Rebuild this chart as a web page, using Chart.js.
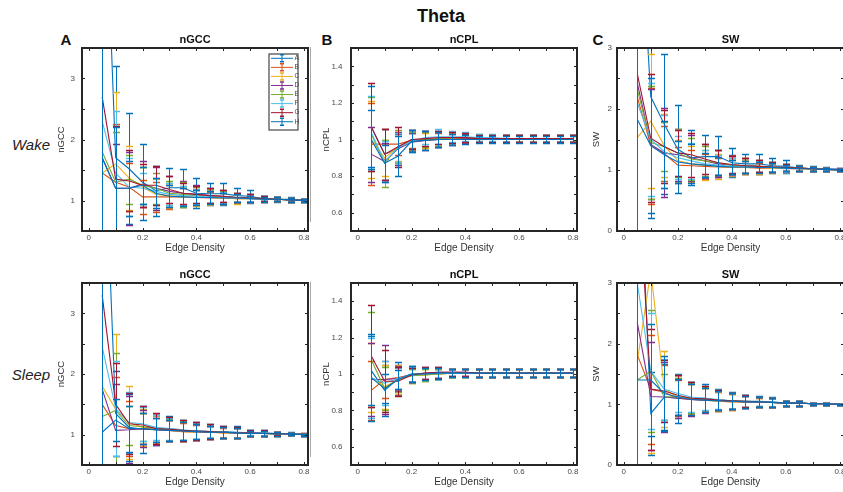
<!DOCTYPE html>
<html>
<head>
<meta charset="utf-8">
<title>Theta</title>
<script src="https://cdn.jsdelivr.net/npm/chart.js@4.4.1/dist/chart.umd.min.js"></script>
<style>
  html, body { margin: 0; padding: 0; background: #fff; }
  body { width: 843px; height: 492px; position: relative; overflow: hidden; font-family: "Liberation Sans", Arial, sans-serif; color: #111; }
  canvas { position: absolute; }
  .txt { position: absolute; transform: translate(-50%, -50%); white-space: nowrap; line-height: 1; }
  .big { font-weight: bold; font-size: 18px; }
  .letter { font-weight: bold; font-size: 15px; }
  .row { font-style: italic; font-size: 15px; color: #222; }
  .rule { position: absolute; left: 310px; width: 1px; background: #a8a8a8; }
</style>
</head>
<body>
<div class="txt big" style="left:441px;top:16px">Theta</div>
<div class="txt letter" style="left:66px;top:39px">A</div>
<div class="txt letter" style="left:327px;top:39px">B</div>
<div class="txt letter" style="left:598px;top:39px">C</div>
<div class="txt row" style="left:31px;top:144px">Wake</div>
<div class="txt row" style="left:31px;top:374px">Sleep</div>
<div class="rule" style="top:47px;height:175px"></div>
<div class="rule" style="top:282px;height:175px"></div>

<canvas id="wakeGcc"></canvas>
<canvas id="wakeCpl"></canvas>
<canvas id="wakeSw"></canvas>
<canvas id="sleepGcc"></canvas>
<canvas id="sleepCpl"></canvas>
<canvas id="sleepSw"></canvas>

<script>
// edge densities (x) and the 8 subjects
const edgeDensity = [0.05, 0.10, 0.15, 0.20, 0.25, 0.30, 0.35, 0.40, 0.45, 0.50, 0.55, 0.60, 0.65, 0.70, 0.75, 0.80];
const seriesNames = ['A', 'B', 'C', 'D', 'E', 'F', 'G', 'H'];
const seriesColors = ['#0072BD', '#D95319', '#EDB120', '#7E2F8E', '#77AC30', '#4DBEEE', '#A2142F', '#0072BD'];

// tick values / labels
const xTickValues = [0, 0.1, 0.2, 0.3, 0.4, 0.5, 0.6, 0.7, 0.8];
const xTickLabels = ['0', '', '0.2', '', '0.4', '', '0.6', '', '0.8'];
const gccTickValues = [0.5, 1, 1.5, 2, 2.5, 3, 3.5];
const gccTickLabels = ['', '1', '', '2', '', '3', ''];
const cplTickValues = [0.5, 0.6, 0.7, 0.8, 0.9, 1, 1.1, 1.2, 1.3, 1.4, 1.5];
const cplTickLabels = ['', '0.6', '', '0.8', '', '1', '', '1.2', '', '1.4', ''];
const swTickValues = [0, 0.5, 1, 1.5, 2, 2.5, 3];
const swTickLabels = ['0', '', '1', '', '2', '', '3'];

// Wake - nGCC (rows A..H)
const wakeGccMean = [
  [7.5, 1.7, 1.52, 1.3, 1.16, 1.21, 1.21, 1.12, 1.11, 1.11, 1.08, 1.07, 1.03, 1.02, 1.02, 1.01],
  [1.45, 1.3, 1.22, 1.06, 1.06, 1.06, 1.06, 1.05, 1.04, 1.04, 1.03, 1.03, 1.02, 1.02, 1.01, 1.01],
  [1.45, 1.6, 1.37, 1.22, 1.1, 1.08, 1.06, 1.05, 1.05, 1.04, 1.03, 1.03, 1.02, 1.02, 1.01, 1.0],
  [1.7, 1.2, 1.2, 1.27, 1.2, 1.15, 1.12, 1.1, 1.08, 1.07, 1.05, 1.04, 1.03, 1.02, 1.01, 1.01],
  [1.8, 1.3, 1.35, 1.25, 1.2, 1.12, 1.1, 1.08, 1.07, 1.06, 1.05, 1.04, 1.03, 1.02, 1.01, 1.0],
  [2.3, 1.45, 1.22, 1.2, 1.15, 1.1, 1.08, 1.07, 1.06, 1.05, 1.04, 1.03, 1.03, 1.02, 1.01, 1.0],
  [2.7, 1.35, 1.32, 1.25, 1.25, 1.18, 1.12, 1.1, 1.08, 1.07, 1.05, 1.04, 1.03, 1.02, 1.01, 1.0],
  [1.7, 1.2, 1.2, 1.25, 1.12, 1.07, 1.06, 1.05, 1.05, 1.04, 1.04, 1.03, 1.02, 1.02, 1.01, 1.0]
];
const wakeGccErr = [
  [8, 1.5, 0.91, 0.62, 0.41, 0.33, 0.31, 0.25, 0.18, 0.18, 0.12, 0.11, 0.05, 0.04, 0.03, 0.02],
  [3.5, 0.95, 0.4, 0.28, 0.25, 0.2, 0.15, 0.12, 0.1, 0.09, 0.07, 0.06, 0.04, 0.03, 0.03, 0.02],
  [3.5, 1.18, 0.53, 0.33, 0.25, 0.2, 0.17, 0.14, 0.12, 0.1, 0.08, 0.06, 0.04, 0.03, 0.03, 0.02],
  [3.5, 0.73, 0.6, 0.38, 0.35, 0.25, 0.2, 0.15, 0.12, 0.1, 0.08, 0.06, 0.04, 0.03, 0.03, 0.02],
  [3.5, 0.82, 0.4, 0.3, 0.25, 0.2, 0.2, 0.14, 0.12, 0.1, 0.08, 0.06, 0.04, 0.03, 0.03, 0.02],
  [3.5, 1.02, 0.48, 0.25, 0.22, 0.18, 0.15, 0.12, 0.1, 0.09, 0.07, 0.06, 0.04, 0.03, 0.03, 0.02],
  [3.5, 0.87, 0.5, 0.35, 0.32, 0.22, 0.17, 0.14, 0.12, 0.1, 0.08, 0.06, 0.04, 0.03, 0.03, 0.02],
  [3.5, 1.0, 0.45, 0.3, 0.25, 0.18, 0.15, 0.12, 0.1, 0.09, 0.07, 0.05, 0.04, 0.03, 0.03, 0.02]
];

// Wake - nCPL
const wakeCplMean = [
  [1.07, 0.92, 0.95, 1.0, 1.0, 1.0, 1.005, 1.005, 1.005, 1.005, 1.005, 1.005, 1.005, 1.005, 1.005, 1.005],
  [0.975, 0.975, 0.975, 0.995, 1.0, 1.0, 1.005, 1.005, 1.005, 1.005, 1.005, 1.005, 1.005, 1.005, 1.005, 1.005],
  [1.0, 0.9, 0.96, 0.99, 0.995, 1.0, 1.005, 1.005, 1.005, 1.005, 1.005, 1.005, 1.005, 1.005, 1.005, 1.005],
  [0.92, 0.88, 0.95, 0.985, 0.995, 1.0, 1.0, 1.005, 1.005, 1.005, 1.005, 1.005, 1.005, 1.005, 1.005, 1.005],
  [1.03, 0.87, 0.96, 0.99, 1.0, 1.005, 1.01, 1.01, 1.01, 1.005, 1.005, 1.005, 1.005, 1.005, 1.005, 1.005],
  [1.04, 0.88, 0.955, 0.99, 1.01, 1.015, 1.015, 1.015, 1.01, 1.01, 1.005, 1.005, 1.005, 1.005, 1.005, 1.005],
  [1.07, 0.92, 0.96, 1.0, 1.005, 1.01, 1.01, 1.01, 1.005, 1.005, 1.005, 1.005, 1.005, 1.005, 1.005, 1.005],
  [1.0, 0.87, 0.91, 0.99, 0.995, 1.0, 1.0, 1.0, 1.0, 1.0, 1.0, 1.0, 1.0, 1.0, 1.0, 1.0]
];
const wakeCplErr = [
  [0.22, 0.14, 0.08, 0.05, 0.045, 0.04, 0.03, 0.025, 0.02, 0.02, 0.02, 0.02, 0.02, 0.02, 0.02, 0.02],
  [0.225, 0.08, 0.06, 0.04, 0.04, 0.035, 0.03, 0.025, 0.02, 0.02, 0.02, 0.02, 0.02, 0.02, 0.02, 0.02],
  [0.21, 0.1, 0.08, 0.05, 0.04, 0.04, 0.03, 0.025, 0.02, 0.02, 0.02, 0.02, 0.02, 0.02, 0.02, 0.02],
  [0.15, 0.1, 0.09, 0.05, 0.05, 0.04, 0.03, 0.025, 0.02, 0.02, 0.02, 0.02, 0.02, 0.02, 0.02, 0.02],
  [0.2, 0.13, 0.09, 0.05, 0.04, 0.04, 0.03, 0.025, 0.02, 0.02, 0.02, 0.02, 0.02, 0.02, 0.02, 0.02],
  [0.2, 0.11, 0.08, 0.06, 0.035, 0.04, 0.03, 0.025, 0.02, 0.02, 0.02, 0.02, 0.02, 0.02, 0.02, 0.02],
  [0.24, 0.14, 0.11, 0.05, 0.04, 0.035, 0.03, 0.025, 0.02, 0.02, 0.02, 0.02, 0.02, 0.02, 0.02, 0.02],
  [0.16, 0.1, 0.11, 0.06, 0.05, 0.04, 0.03, 0.025, 0.02, 0.02, 0.02, 0.02, 0.02, 0.02, 0.02, 0.02]
];

// Wake - SW
const wakeSwMean = [
  [6, 2.2, 1.75, 1.34, 1.2, 1.22, 1.22, 1.12, 1.1, 1.1, 1.07, 1.06, 1.03, 1.02, 1.02, 1.01],
  [2.2, 1.4, 1.27, 1.08, 1.07, 1.06, 1.05, 1.04, 1.04, 1.03, 1.03, 1.02, 1.02, 1.01, 1.01, 1.0],
  [1.53, 1.8, 1.4, 1.15, 1.1, 1.08, 1.06, 1.05, 1.05, 1.04, 1.03, 1.03, 1.02, 1.02, 1.01, 1.0],
  [2.43, 1.42, 1.28, 1.25, 1.2, 1.15, 1.1, 1.08, 1.07, 1.06, 1.05, 1.04, 1.03, 1.02, 1.01, 1.01],
  [2.32, 1.45, 1.38, 1.28, 1.18, 1.15, 1.12, 1.08, 1.07, 1.06, 1.05, 1.04, 1.03, 1.02, 1.01, 1.0],
  [2.1, 1.5, 1.3, 1.2, 1.15, 1.1, 1.08, 1.06, 1.05, 1.05, 1.04, 1.03, 1.02, 1.02, 1.01, 1.0],
  [2.58, 1.52, 1.38, 1.28, 1.25, 1.18, 1.12, 1.09, 1.07, 1.06, 1.05, 1.04, 1.03, 1.02, 1.01, 1.0],
  [1.83, 1.4, 1.25, 1.13, 1.1, 1.08, 1.06, 1.05, 1.05, 1.04, 1.04, 1.03, 1.02, 1.02, 1.01, 1.0]
];
const wakeSwErr = [
  [6, 1.98, 1.15, 0.72, 0.45, 0.35, 0.33, 0.24, 0.17, 0.17, 0.12, 0.11, 0.05, 0.04, 0.03, 0.02],
  [4, 0.95, 0.45, 0.3, 0.25, 0.2, 0.15, 0.12, 0.1, 0.09, 0.07, 0.06, 0.04, 0.03, 0.03, 0.02],
  [4, 1.1, 0.52, 0.35, 0.3, 0.25, 0.2, 0.15, 0.12, 0.1, 0.08, 0.06, 0.04, 0.03, 0.03, 0.02],
  [4, 0.9, 0.73, 0.43, 0.38, 0.28, 0.22, 0.16, 0.12, 0.1, 0.08, 0.06, 0.04, 0.03, 0.03, 0.02],
  [4, 0.93, 0.4, 0.4, 0.35, 0.25, 0.2, 0.15, 0.12, 0.1, 0.08, 0.06, 0.04, 0.03, 0.03, 0.02],
  [4, 0.92, 0.6, 0.35, 0.3, 0.22, 0.17, 0.13, 0.1, 0.09, 0.07, 0.06, 0.04, 0.03, 0.03, 0.02],
  [4, 1.05, 0.6, 0.38, 0.36, 0.25, 0.2, 0.14, 0.12, 0.1, 0.08, 0.06, 0.04, 0.03, 0.03, 0.02],
  [4, 1.1, 0.55, 0.35, 0.32, 0.2, 0.15, 0.12, 0.1, 0.09, 0.07, 0.05, 0.04, 0.03, 0.03, 0.02]
];

// Sleep - nGCC
const sleepGccMean = [
  [7, 1.35, 1.12, 1.09, 1.08, 1.1, 1.07, 1.06, 1.05, 1.05, 1.04, 1.03, 1.03, 1.02, 1.02, 1.01],
  [1.5, 1.15, 1.1, 1.1, 1.08, 1.07, 1.05, 1.04, 1.04, 1.03, 1.03, 1.02, 1.02, 1.01, 1.01, 1.01],
  [1.8, 1.42, 1.2, 1.12, 1.09, 1.07, 1.05, 1.04, 1.04, 1.03, 1.03, 1.02, 1.02, 1.01, 1.01, 1.0],
  [1.75, 1.07, 1.08, 1.1, 1.08, 1.07, 1.06, 1.05, 1.04, 1.04, 1.03, 1.02, 1.02, 1.01, 1.01, 1.0],
  [1.3, 1.4, 1.15, 1.13, 1.1, 1.08, 1.07, 1.06, 1.05, 1.04, 1.03, 1.02, 1.02, 1.01, 1.01, 1.0],
  [2.45, 1.43, 1.2, 1.18, 1.12, 1.1, 1.08, 1.06, 1.05, 1.04, 1.03, 1.03, 1.02, 1.02, 1.01, 1.0],
  [3.3, 1.5, 1.18, 1.16, 1.1, 1.09, 1.07, 1.06, 1.05, 1.04, 1.03, 1.03, 1.02, 1.02, 1.01, 1.0],
  [1.04, 1.24, 1.1, 1.1, 1.08, 1.07, 1.06, 1.05, 1.04, 1.04, 1.03, 1.02, 1.02, 1.01, 1.01, 1.0]
];
const sleepGccErr = [
  [8, 0.7, 0.55, 0.39, 0.25, 0.2, 0.18, 0.15, 0.12, 0.1, 0.1, 0.05, 0.05, 0.03, 0.02, 0.015],
  [3.5, 0.8, 0.45, 0.25, 0.2, 0.18, 0.15, 0.12, 0.1, 0.08, 0.08, 0.04, 0.04, 0.03, 0.02, 0.015],
  [3.5, 1.24, 0.6, 0.3, 0.22, 0.18, 0.16, 0.13, 0.11, 0.09, 0.08, 0.04, 0.04, 0.03, 0.02, 0.015],
  [3.5, 0.76, 0.55, 0.3, 0.25, 0.18, 0.16, 0.13, 0.11, 0.09, 0.08, 0.04, 0.04, 0.03, 0.02, 0.015],
  [3.5, 0.95, 0.32, 0.23, 0.22, 0.18, 0.16, 0.13, 0.11, 0.09, 0.08, 0.04, 0.04, 0.03, 0.02, 0.015],
  [3.5, 0.78, 0.5, 0.28, 0.2, 0.18, 0.16, 0.13, 0.11, 0.09, 0.08, 0.04, 0.04, 0.03, 0.02, 0.015],
  [3.5, 0.68, 0.5, 0.32, 0.25, 0.2, 0.18, 0.15, 0.12, 0.1, 0.09, 0.05, 0.05, 0.03, 0.02, 0.015],
  [3.5, 0.35, 0.38, 0.25, 0.2, 0.18, 0.15, 0.12, 0.1, 0.09, 0.08, 0.04, 0.04, 0.03, 0.02, 0.015]
];

// Sleep - nCPL
const sleepCplMean = [
  [1.02, 0.91, 0.975, 1.0, 1.0, 1.005, 1.005, 1.005, 1.005, 1.005, 1.005, 1.005, 1.005, 1.005, 1.005, 1.005],
  [0.91, 0.97, 0.98, 0.995, 1.0, 1.0, 1.005, 1.005, 1.005, 1.005, 1.005, 1.005, 1.005, 1.005, 1.005, 1.005],
  [0.98, 0.93, 0.97, 0.99, 0.995, 1.0, 1.005, 1.005, 1.005, 1.005, 1.005, 1.005, 1.005, 1.005, 1.005, 1.005],
  [0.97, 0.97, 0.975, 0.995, 1.005, 1.01, 1.01, 1.01, 1.005, 1.005, 1.005, 1.005, 1.005, 1.005, 1.005, 1.005],
  [1.08, 0.92, 0.97, 0.99, 0.995, 1.0, 1.005, 1.005, 1.005, 1.005, 1.005, 1.005, 1.005, 1.005, 1.005, 1.005],
  [0.98, 0.95, 0.975, 0.995, 1.0, 1.005, 1.005, 1.005, 1.005, 1.005, 1.005, 1.005, 1.005, 1.005, 1.005, 1.005],
  [1.1, 0.96, 0.96, 0.995, 1.005, 1.01, 1.01, 1.01, 1.005, 1.005, 1.005, 1.005, 1.005, 1.005, 1.005, 1.005],
  [0.98, 0.92, 0.97, 1.0, 1.0, 1.005, 1.005, 1.005, 1.005, 1.005, 1.005, 1.005, 1.005, 1.005, 1.005, 1.005]
];
const sleepCplErr = [
  [0.19, 0.14, 0.09, 0.045, 0.035, 0.03, 0.02, 0.02, 0.02, 0.02, 0.02, 0.02, 0.02, 0.02, 0.02, 0.02],
  [0.16, 0.1, 0.07, 0.04, 0.035, 0.03, 0.02, 0.02, 0.02, 0.02, 0.02, 0.02, 0.02, 0.02, 0.02, 0.02],
  [0.19, 0.12, 0.08, 0.04, 0.035, 0.03, 0.02, 0.02, 0.02, 0.02, 0.02, 0.02, 0.02, 0.02, 0.02, 0.02],
  [0.2, 0.19, 0.07, 0.04, 0.035, 0.03, 0.02, 0.02, 0.02, 0.02, 0.02, 0.02, 0.02, 0.02, 0.02, 0.02],
  [0.26, 0.12, 0.07, 0.04, 0.035, 0.03, 0.02, 0.02, 0.02, 0.02, 0.02, 0.02, 0.02, 0.02, 0.02, 0.02],
  [0.22, 0.12, 0.06, 0.04, 0.035, 0.03, 0.02, 0.02, 0.02, 0.02, 0.02, 0.02, 0.02, 0.02, 0.02, 0.02],
  [0.28, 0.17, 0.08, 0.04, 0.035, 0.03, 0.02, 0.02, 0.02, 0.02, 0.02, 0.02, 0.02, 0.02, 0.02, 0.02],
  [0.24, 0.08, 0.05, 0.045, 0.035, 0.03, 0.02, 0.02, 0.02, 0.02, 0.02, 0.02, 0.02, 0.02, 0.02, 0.02]
];

// Sleep - SW
const sleepSwMean = [
  [6, 0.85, 1.12, 1.1, 1.1, 1.1, 1.07, 1.06, 1.05, 1.05, 1.04, 1.02, 1.02, 1.01, 1.01, 1.0],
  [1.82, 1.25, 1.2, 1.1, 1.08, 1.07, 1.05, 1.04, 1.04, 1.03, 1.03, 1.02, 1.02, 1.01, 1.01, 1.0],
  [1.7, 3.2, 1.25, 1.12, 1.09, 1.07, 1.05, 1.04, 1.04, 1.03, 1.03, 1.02, 1.02, 1.01, 1.01, 1.0],
  [2.35, 1.13, 1.12, 1.1, 1.08, 1.07, 1.06, 1.05, 1.04, 1.04, 1.03, 1.02, 1.02, 1.01, 1.01, 1.0],
  [1.4, 1.55, 1.12, 1.13, 1.1, 1.08, 1.07, 1.06, 1.05, 1.04, 1.03, 1.02, 1.02, 1.01, 1.01, 1.0],
  [3.0, 1.55, 1.25, 1.18, 1.12, 1.1, 1.08, 1.06, 1.05, 1.04, 1.03, 1.02, 1.02, 1.01, 1.01, 1.0],
  [5, 1.25, 1.22, 1.15, 1.1, 1.09, 1.07, 1.06, 1.05, 1.04, 1.03, 1.02, 1.02, 1.01, 1.01, 1.0],
  [1.4, 1.4, 1.18, 1.12, 1.08, 1.07, 1.06, 1.05, 1.04, 1.04, 1.03, 1.02, 1.02, 1.01, 1.01, 1.0]
];
const sleepSwErr = [
  [6, 0.68, 0.55, 0.4, 0.27, 0.23, 0.18, 0.14, 0.11, 0.08, 0.08, 0.04, 0.04, 0.02, 0.015, 0.01],
  [4, 0.9, 0.45, 0.3, 0.25, 0.2, 0.16, 0.13, 0.1, 0.08, 0.08, 0.04, 0.04, 0.02, 0.015, 0.01],
  [4, 3.0, 0.63, 0.35, 0.25, 0.2, 0.16, 0.13, 0.1, 0.08, 0.08, 0.04, 0.04, 0.02, 0.015, 0.01],
  [4, 0.89, 0.58, 0.32, 0.28, 0.22, 0.16, 0.13, 0.1, 0.08, 0.08, 0.04, 0.04, 0.02, 0.015, 0.01],
  [4, 1.0, 0.38, 0.3, 0.25, 0.2, 0.16, 0.13, 0.1, 0.08, 0.08, 0.04, 0.04, 0.02, 0.015, 0.01],
  [4, 0.95, 0.5, 0.3, 0.25, 0.2, 0.16, 0.13, 0.1, 0.08, 0.08, 0.04, 0.04, 0.02, 0.015, 0.01],
  [5, 1.0, 0.51, 0.33, 0.27, 0.22, 0.17, 0.13, 0.1, 0.08, 0.08, 0.04, 0.04, 0.02, 0.015, 0.01],
  [4, 0.93, 0.62, 0.3, 0.25, 0.2, 0.16, 0.13, 0.1, 0.08, 0.08, 0.04, 0.04, 0.02, 0.015, 0.01]
];

// ---- layout ----
const Y_W = 32, TOP_PAD = 24, X_H = 24, RIGHT_PAD = 4;
const FONT = '"Liberation Sans", Arial, sans-serif';
Chart.defaults.font.family = FONT;

const panels = [
  { id: 'wakeGcc',  left: 82,  top: 48,  w: 226, h: 183, title: 'nGCC', mean: wakeGccMean,  err: wakeGccErr,  yMin: 0.5, yMax: 3.5, yTicks: gccTickValues, yLabels: gccTickLabels, labelPad: 7,   titleGap: 20.5, legend: true },
  { id: 'wakeCpl',  left: 351, top: 48,  w: 226, h: 183, title: 'nCPL', mean: wakeCplMean,  err: wakeCplErr,  yMin: 0.5, yMax: 1.5, yTicks: cplTickValues, yLabels: cplTickLabels, labelPad: 8.5, titleGap: 25 },
  { id: 'wakeSw',   left: 617, top: 48,  w: 227, h: 183, title: 'SW',   mean: wakeSwMean,   err: wakeSwErr,   yMin: 0,   yMax: 3,   yTicks: swTickValues,  yLabels: swTickLabels,  labelPad: 5,   titleGap: 21 },
  { id: 'sleepGcc', left: 82,  top: 283, w: 226, h: 182, title: 'nGCC', mean: sleepGccMean, err: sleepGccErr, yMin: 0.5, yMax: 3.5, yTicks: gccTickValues, yLabels: gccTickLabels, labelPad: 7,   titleGap: 20.5 },
  { id: 'sleepCpl', left: 351, top: 283, w: 226, h: 182, title: 'nCPL', mean: sleepCplMean, err: sleepCplErr, yMin: 0.5, yMax: 1.5, yTicks: cplTickValues, yLabels: cplTickLabels, labelPad: 8.5, titleGap: 25 },
  { id: 'sleepSw',  left: 617, top: 283, w: 227, h: 182, title: 'SW',   mean: sleepSwMean,  err: sleepSwErr,  yMin: 0,   yMax: 3,   yTicks: swTickValues,  yLabels: swTickLabels,  labelPad: 5,   titleGap: 21 }
];

// vertical error bars with caps, drawn right after each series
const errorBars = {
  id: 'errorBars',
  afterDatasetDraw(chart, args) {
    const ds = chart.data.datasets[args.index];
    if (!ds.errors) return;
    const { ctx, chartArea: a, scales: { x, y } } = chart;
    ctx.save();
    ctx.beginPath();
    ctx.rect(a.left, a.top, a.right - a.left, a.bottom - a.top);
    ctx.clip();
    ctx.strokeStyle = ds.borderColor;
    ds.data.forEach((p, i) => {
      const e = ds.errors[i];
      // snap to the pixel grid so stacked stems stay one clean colour
      const px = Math.round(x.getPixelForValue(p.x)) + 0.5;
      const hi = Math.round(y.getPixelForValue(p.y + e)) + 0.5;
      const lo = Math.round(y.getPixelForValue(p.y - e)) + 0.5;
      ctx.lineWidth = 1;
      ctx.beginPath();
      ctx.moveTo(px, hi); ctx.lineTo(px, lo);
      ctx.stroke();
      ctx.lineWidth = 1.5;
      ctx.beginPath();
      ctx.moveTo(px - 3.5, hi); ctx.lineTo(px + 3.5, hi);
      ctx.moveTo(px - 3.5, lo); ctx.lineTo(px + 3.5, lo);
      ctx.stroke();
    });
    ctx.restore();
  }
};

// box, inward ticks, panel title and (panel A) legend
const frame = {
  id: 'frame',
  afterDraw(chart, args, opts) {
    const { ctx, chartArea: a, scales: { x, y } } = chart;
    ctx.save();
    ctx.strokeStyle = '#262626';
    ctx.lineWidth = 1;
    ctx.beginPath();
    x.ticks.forEach(t => {
      const px = Math.round(x.getPixelForValue(t.value)) + 0.5;
      ctx.moveTo(px, a.bottom); ctx.lineTo(px, a.bottom - 3);
      ctx.moveTo(px, a.top); ctx.lineTo(px, a.top + 3);
    });
    y.ticks.forEach(t => {
      const py = Math.round(y.getPixelForValue(t.value)) + 0.5;
      ctx.moveTo(a.left, py); ctx.lineTo(a.left + 3, py);
      ctx.moveTo(a.right, py); ctx.lineTo(a.right - 3, py);
    });
    ctx.stroke();
    ctx.lineWidth = 2;
    ctx.strokeRect(a.left, a.top, a.right - a.left, a.bottom - a.top);

    ctx.fillStyle = '#111';
    ctx.font = 'bold 11px ' + FONT;
    ctx.textAlign = 'center';
    ctx.textBaseline = 'middle';
    ctx.fillText(opts.title, (a.left + a.right) / 2, a.top - 8.3);

    if (opts.legend) {
      const bx = a.right - 39, by = a.top + 6, bw = 29, bh = 76;
      ctx.fillStyle = '#fff';
      ctx.fillRect(bx, by, bw, bh);
      ctx.lineWidth = 1.3;
      ctx.strokeStyle = '#555';
      ctx.strokeRect(bx, by, bw, bh);
      ctx.font = '6.5px ' + FONT;
      ctx.textAlign = 'left';
      chart.data.datasets.forEach((ds, i) => {
        const yy = by + 4.3 + i * 9.06;
        ctx.strokeStyle = ds.borderColor;
        ctx.lineWidth = 1;
        ctx.beginPath();
        ctx.moveTo(bx + 2, yy); ctx.lineTo(bx + 24, yy);
        ctx.moveTo(bx + 13, yy - 3.5); ctx.lineTo(bx + 13, yy + 3.5);
        ctx.stroke();
        ctx.lineWidth = 1.5;
        ctx.beginPath();
        ctx.moveTo(bx + 11, yy - 3.5); ctx.lineTo(bx + 15, yy - 3.5);
        ctx.moveTo(bx + 11, yy + 3.5); ctx.lineTo(bx + 15, yy + 3.5);
        ctx.stroke();
        ctx.fillStyle = '#444';
        ctx.fillText(ds.label, bx + 25.5, yy);
      });
    }
    ctx.restore();
  }
};

panels.forEach(p => {
  const cv = document.getElementById(p.id);
  cv.width = Y_W + p.w + RIGHT_PAD;
  cv.height = TOP_PAD + p.h + X_H;
  cv.style.left = (p.left - Y_W) + 'px';
  cv.style.top = (p.top - TOP_PAD) + 'px';

  new Chart(cv, {
    type: 'line',
    data: {
      datasets: seriesNames.map((name, i) => ({
        label: name,
        data: edgeDensity.map((xv, j) => ({ x: xv, y: p.mean[i][j] })),
        errors: p.err[i],
        borderColor: seriesColors[i],
        backgroundColor: seriesColors[i],
        borderWidth: 1.1,
        pointRadius: 0,
        tension: 0,
        clip: 0,
        order: seriesNames.length - 1 - i
      }))
    },
    options: {
      responsive: false,
      animation: false,
      devicePixelRatio: 1,
      layout: { padding: { top: TOP_PAD, right: RIGHT_PAD, left: 0, bottom: 0 } },
      plugins: {
        legend: { display: false },
        tooltip: { enabled: false },
        frame: { title: p.title, legend: !!p.legend }
      },
      scales: {
        x: {
          type: 'linear', min: -0.025, max: 0.815,
          afterFit: s => { s.height = X_H; },
          afterBuildTicks: s => { s.ticks = xTickValues.map(v => ({ value: v })); },
          grid: { display: false, drawTicks: false },
          border: { display: false },
          ticks: { autoSkip: false, maxRotation: 0, padding: 2, color: '#4a4a4a', font: { size: 8 },
                   callback: (v, i) => xTickLabels[i] },
          title: { display: true, text: 'Edge Density', color: '#333', font: { size: 10 }, padding: { top: 0, bottom: 1 } }
        },
        y: {
          type: 'linear', min: p.yMin, max: p.yMax,
          afterFit: s => { s.width = Y_W; },
          afterBuildTicks: s => { s.ticks = p.yTicks.map(v => ({ value: v })); },
          grid: { display: false, drawTicks: false },
          border: { display: false },
          ticks: { autoSkip: false, padding: p.labelPad, color: '#4a4a4a', font: { size: 8 },
                   callback: (v, i) => p.yLabels[i] },
          title: { display: true, text: p.title, color: '#333', font: { size: 9.5 },
                   padding: { top: Y_W - p.titleGap - 5.7, bottom: 0 } }
        }
      }
    },
    plugins: [errorBars, frame]
  });
});
</script>
</body>
</html>
